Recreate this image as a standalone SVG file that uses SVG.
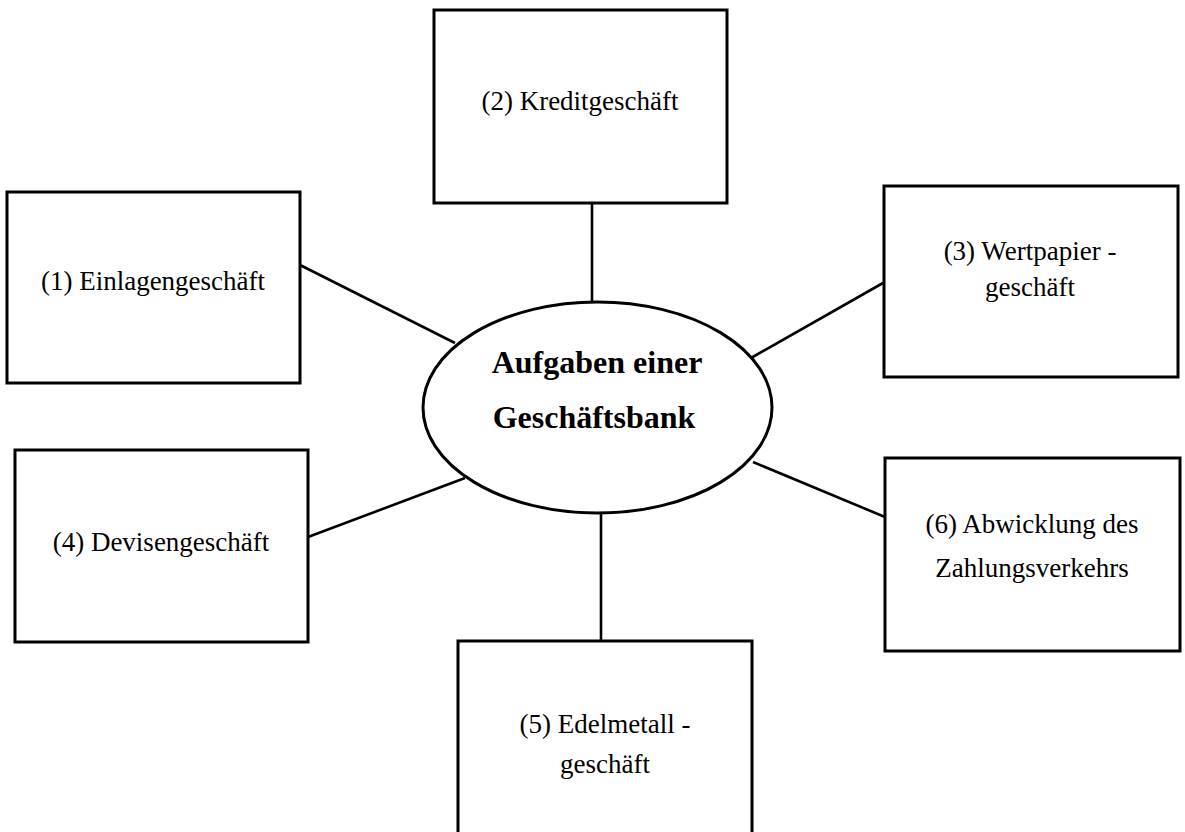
<svg xmlns="http://www.w3.org/2000/svg" width="1185" height="832" viewBox="0 0 1185 832">
<style>
.box{fill:#fff;stroke:#000;stroke-width:3}
.lbl{font-family:"Liberation Serif","Times New Roman",serif;font-size:27px;fill:#000;text-anchor:middle}
.title{font-family:"Liberation Serif","Times New Roman",serif;font-size:32px;font-weight:bold;fill:#000;text-anchor:middle}
.conn line{stroke:#000;stroke-width:2.6}
</style>
<rect width="1185" height="832" fill="#fff"/>
<g id="connectors" class="conn">
<line x1="592" y1="203" x2="592" y2="302"/>
<line x1="300" y1="265" x2="455" y2="343"/>
<line x1="883" y1="283" x2="751" y2="358"/>
<line x1="308" y1="537" x2="465" y2="478"/>
<line x1="885" y1="517" x2="753" y2="462"/>
<line x1="601" y1="513" x2="601" y2="641"/>
</g>
<g id="center">
<ellipse cx="597.5" cy="407.5" rx="174.5" ry="105.5" fill="#fff" stroke="#000" stroke-width="3"/>
<text class="title" x="597" y="373">Aufgaben einer</text>
<text class="title" x="594" y="428">Geschäftsbank</text>
</g>
<g id="node1">
<rect class="box" x="7" y="192" width="293" height="191"/>
<text class="lbl" x="153" y="290">(1) Einlagengeschäft</text>
</g>
<g id="node2">
<rect class="box" x="434" y="10" width="293" height="193"/>
<text class="lbl" x="580" y="110">(2) Kreditgeschäft</text>
</g>
<g id="node3">
<rect class="box" x="884" y="186" width="294" height="191"/>
<text class="lbl" x="1030" y="260">(3) Wertpapier -</text>
<text class="lbl" x="1030" y="296">geschäft</text>
</g>
<g id="node4">
<rect class="box" x="15" y="450" width="293" height="192"/>
<text class="lbl" x="161" y="551">(4) Devisengeschäft</text>
</g>
<g id="node5">
<rect class="box" x="458" y="641" width="294" height="200"/>
<text class="lbl" x="605" y="733">(5) Edelmetall -</text>
<text class="lbl" x="605" y="773">geschäft</text>
</g>
<g id="node6">
<rect class="box" x="885" y="458" width="295" height="193"/>
<text class="lbl" x="1032" y="533">(6) Abwicklung des</text>
<text class="lbl" x="1032" y="577">Zahlungsverkehrs</text>
</g>
</svg>
